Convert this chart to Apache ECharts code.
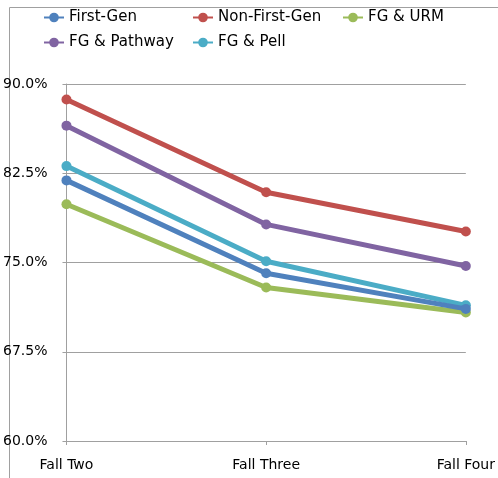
<!DOCTYPE html>
<html><head><meta charset="utf-8">
<script src="https://cdn.jsdelivr.net/npm/echarts@6/dist/echarts.min.js"></script>
<style>html,body{margin:0;padding:0;background:#fff}#c{width:498px;height:478px}</style>
</head><body><div id="c"></div>
<script>
const categories = ["Fall Two", "Fall Three", "Fall Four"];
const seriesNames = ["First-Gen", "Non-First-Gen", "FG & URM", "FG & Pathway", "FG & Pell"];
const firstGen = [81.9, 74.1, 71.1];
const nonFirstGen = [88.7, 80.9, 77.6];
const fgUrm = [79.9, 72.9, 70.8];
const fgPathway = [86.5, 78.2, 74.7];
const fgPell = [83.1, 75.1, 71.4];
const yTicks = [60, 67.5, 75, 82.5, 90];
const colors = ["#4F81BD", "#C0504D", "#9BBB59", "#8064A2", "#4BACC6"];
const values = [firstGen, nonFirstGen, fgUrm, fgPathway, fgPell];
const font = "DejaVu Sans";
const legendPos = [[43, 10], [192, 10], [342, 10], [43, 35], [192, 35]];
const zOrder = [5, 3, 2, 3, 4];

const chart = echarts.init(document.getElementById('c'));
chart.setOption({
  animation: false,
  color: colors,
  graphic: [{type: 'rect', left: 7, top: 5, shape: {width: 600, height: 471}, style: {fill: 'none', stroke: '#a0a0a0', lineWidth: 1}, z: -1}],
  legend: seriesNames.map((n, i) => ({
    data: [n], left: legendPos[i][0], top: legendPos[i][1], itemWidth: 20, itemHeight: 12, padding: 0,
    textStyle: {fontFamily: font, fontSize: 15, color: '#000'}
  })),
  grid: {left: 66, right: 31, top: 84, bottom: 37},
  xAxis: {
    type: 'category', data: categories, boundaryGap: false,
    axisLine: {lineStyle: {color: '#a0a0a0', width: 1}},
    axisTick: {show: true, length: 4, alignWithLabel: true, lineStyle: {color: '#a0a0a0'}},
    axisLabel: {fontFamily: font, fontSize: 14, color: '#000', margin: 17}
  },
  yAxis: {
    type: 'value', min: 60, max: 90, interval: 7.5,
    axisLine: {show: true, lineStyle: {color: '#a0a0a0', width: 1}},
    axisTick: {show: true, length: 4, lineStyle: {color: '#a0a0a0'}},
    splitLine: {lineStyle: {color: '#a0a0a0', width: 1}},
    axisLabel: {fontFamily: font, fontSize: 14, color: '#000', margin: 19,
      formatter: v => yTicks.includes(v) ? v.toFixed(1) + '%' : ''}
  },
  series: seriesNames.map((n, i) => ({
    name: n, type: 'line', data: values[i], symbol: 'circle', symbolSize: 10, z: zOrder[i],
    lineStyle: {width: 5}, itemStyle: {color: colors[i]}
  }))
});
</script></body></html>
